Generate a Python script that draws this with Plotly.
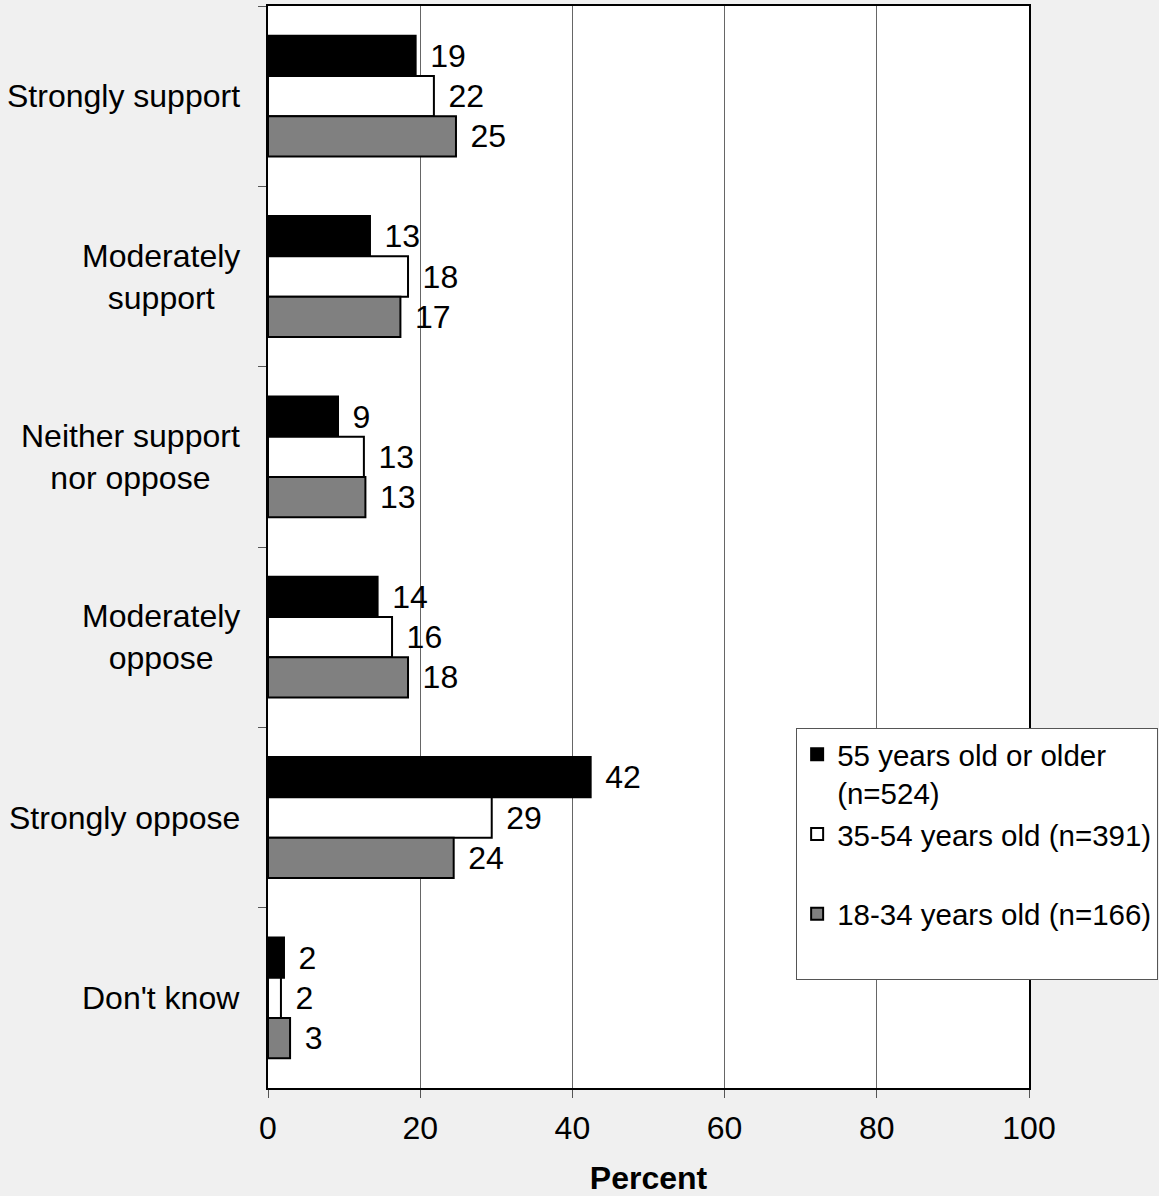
import plotly.graph_objects as go

categories = ["Strongly support", "Moderately support", "Neither support nor oppose",
              "Moderately oppose", "Strongly oppose", "Don't know"]
category_labels = ["Strongly support", "Moderately<br>support", "Neither support<br>nor oppose",
                   "Moderately<br>oppose", "Strongly oppose", "Don't know"]

series_names = ["55 years old or older<br>(n=524)",
                "35-54 years old (n=391)<br> ",
                "18-34 years old (n=166)<br> "]
age_55_plus = [19.4, 13.4, 9.2, 14.4, 42.4, 2.1]
age_35_54 = [21.8, 18.4, 12.6, 16.3, 29.4, 1.7]
age_18_34 = [24.7, 17.4, 12.8, 18.4, 24.4, 2.9]
series_values = [age_55_plus, age_35_54, age_18_34]
series_colors = ["#000000", "#ffffff", "#808080"]

x_ticks = [0, 20, 40, 60, 80, 100]

FONT = "Liberation Sans, Arial, sans-serif"
FS = 32

fig = go.Figure()
for name, vals, col in zip(series_names, series_values, series_colors):
    fig.add_trace(go.Bar(
        y=categories, x=vals, name=name, orientation="h",
        marker=dict(color=col, line=dict(color="#000000", width=2)),
        text=vals, texttemplate="\u00a0\u200a%{x:.0f}", textposition="outside",
        textfont=dict(family=FONT, size=FS, color="#000000"),
        constraintext="none", cliponaxis=False,
    ))

for cat, lab in zip(categories, category_labels):
    fig.add_annotation(
        x=0, xref="paper", y=cat, yref="y", text=lab, showarrow=False,
        xanchor="right", yanchor="middle", align="center", xshift=-26,
        font=dict(family=FONT, size=FS, color="#000000"),
    )

fig.update_layout(
    width=1159, height=1196,
    margin=dict(l=268, r=130, t=6, b=108, autoexpand=False),
    paper_bgcolor="#f0f0f0", plot_bgcolor="#ffffff",
    barmode="group", bargap=0.33, bargroupgap=0,
    font=dict(family=FONT, size=FS, color="#000000"),
    legend=dict(
        x=0.694, y=0.333, xanchor="left", yanchor="top",
        bgcolor="#ffffff", bordercolor="#555555", borderwidth=1,
        font=dict(family=FONT, size=29.5, color="#000000"),
        valign="top", itemwidth=30, traceorder="normal",
        itemclick=False,
    ),
    xaxis=dict(
        range=[0, 100], tickvals=x_ticks, ticktext=[str(t) for t in x_ticks],
        showgrid=True, gridcolor="#666666", gridwidth=1,
        showline=True, linecolor="#000000", linewidth=2, mirror=True,
        ticks="outside", ticklen=8, tickcolor="#555555", ticklabelstandoff=3,
        tickfont=dict(family=FONT, size=FS), zeroline=False, automargin=False,
        title=dict(text="<b>Percent</b>", font=dict(family=FONT, size=FS), standoff=33),
    ),
    yaxis=dict(
        categoryorder="array", categoryarray=categories, autorange="reversed",
        showticklabels=False, tickson="boundaries",
        ticks="outside", ticklen=8, tickcolor="#555555",
        showline=True, linecolor="#000000", linewidth=2, mirror=True,
        showgrid=False, zeroline=False, automargin=False,
    ),
)

fig.write_html("out.html", config={"displayModeBar": False},
               post_script="document.body.style.margin='0';")
